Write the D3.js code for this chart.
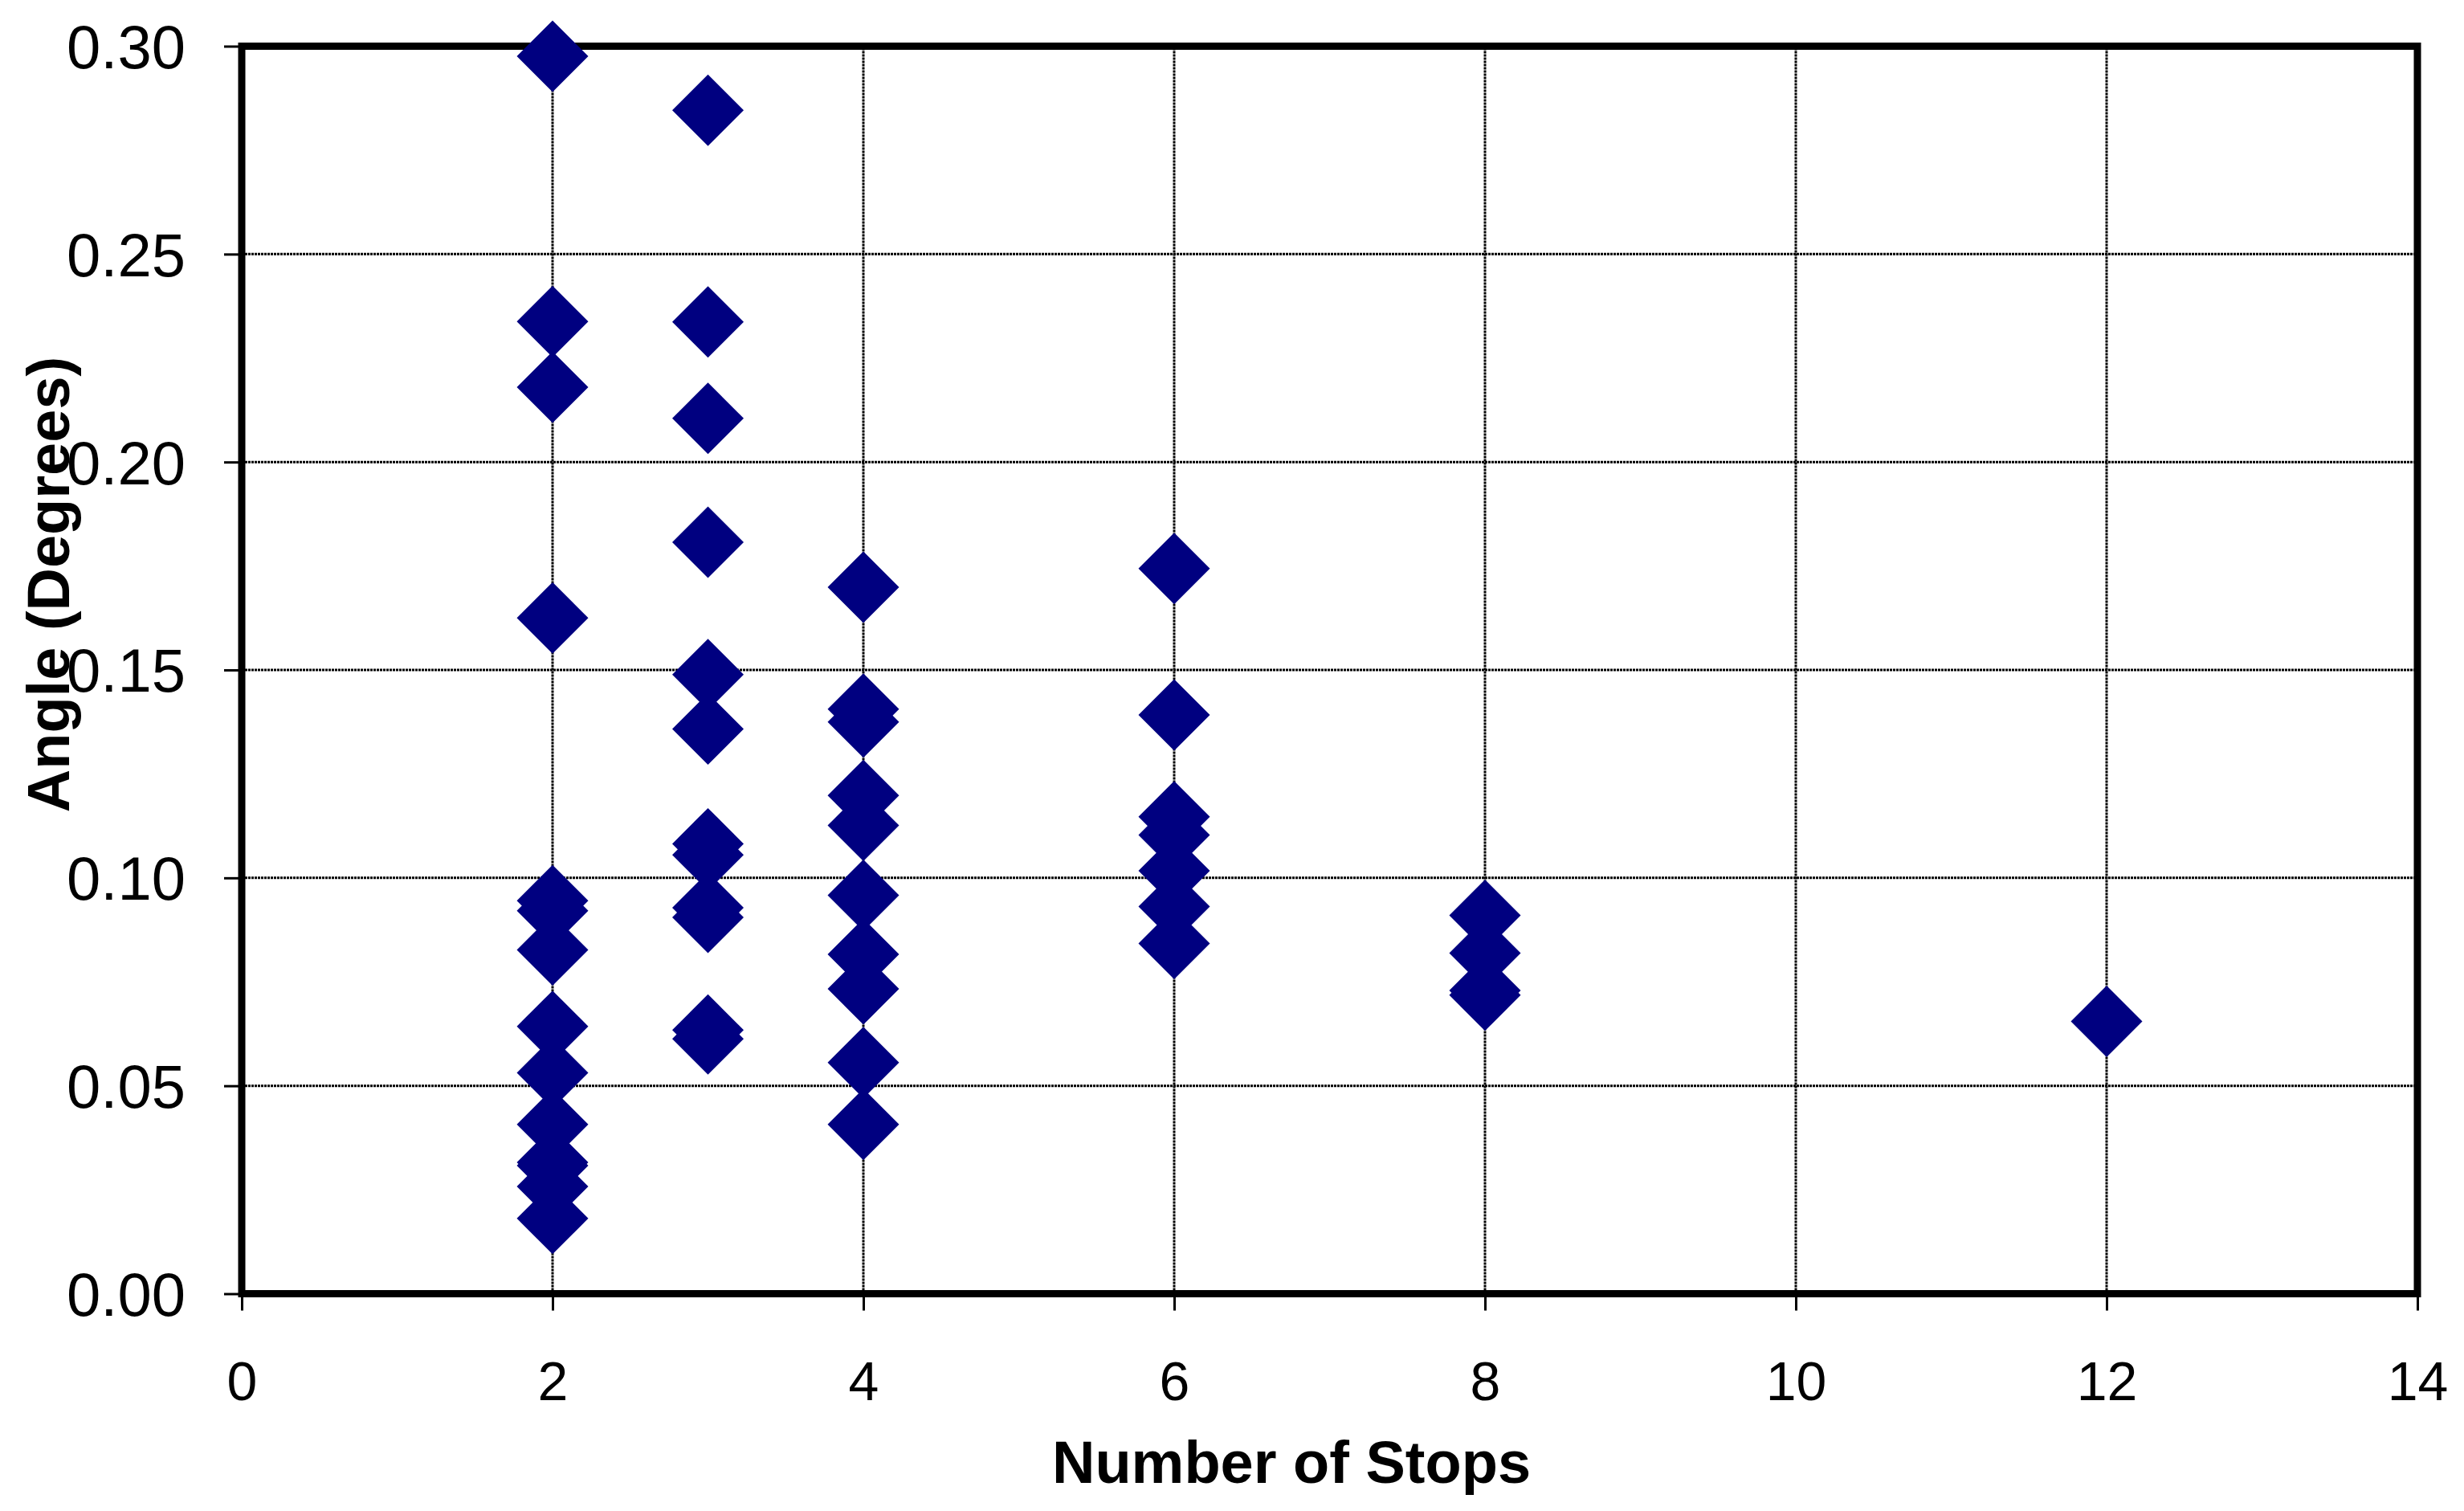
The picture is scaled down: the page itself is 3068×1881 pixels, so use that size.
<!DOCTYPE html>
<html>
<head>
<meta charset="utf-8">
<script src="https://cdn.jsdelivr.net/npm/d3@7"></script>
<style>
    html, body { margin: 0; padding: 0; background: #fff; }
    svg { display: block; }
</style>
</head>
<body>
<svg id="chart"></svg>
<script>
// data: angle (degrees) for each number of stops
const stops = [2, 3, 4, 6, 8, 12];
const anglesAt2 = [0.2976, 0.2338, 0.2180, 0.1625, 0.0945, 0.0921, 0.0827, 0.0643, 0.0531, 0.0407, 0.0316, 0.0308, 0.0258, 0.0181];
const anglesAt3 = [0.2846, 0.2337, 0.2105, 0.1807, 0.1489, 0.1358, 0.1082, 0.1055, 0.0928, 0.0905, 0.0634, 0.0613];
const anglesAt4 = [0.1699, 0.1406, 0.1375, 0.1198, 0.1126, 0.0958, 0.0816, 0.0733, 0.0556, 0.0407];
const anglesAt6 = [0.1744, 0.1392, 0.1147, 0.1103, 0.1017, 0.0931, 0.0842];
const anglesAt8 = [0.0910, 0.0819, 0.0729, 0.0718];
const anglesAt12 = [0.0655];

const xTicks = [0, 2, 4, 6, 8, 10, 12, 14];
const yTicks = [0, 0.05, 0.10, 0.15, 0.20, 0.25, 0.30];
const xTitle = "Number of Stops";
const yTitle = "Angle (Degrees)";

const width = 3068, height = 1881;
const margin = { top: 57.5, right: 58, bottom: 270.5, left: 301 };
const font = "'Liberation Sans', Arial, Helvetica, sans-serif";
const navy = "#000080";

const points = [anglesAt2, anglesAt3, anglesAt4, anglesAt6, anglesAt8, anglesAt12]
    .flatMap((list, i) => list.map(v => ({ stops: stops[i], angle: v })));

const x = d3.scaleLinear()
    .domain([0, 14])
    .range([margin.left, width - margin.right]);

const y = d3.scaleLinear()
    .domain([0, 0.30])
    .range([height - margin.bottom, margin.top]);

const svg = d3.select("#chart")
    .attr("width", width)
    .attr("height", height)
    .attr("viewBox", [0, 0, width, height])
    .style("font-family", font);

svg.append("rect")
    .attr("width", width)
    .attr("height", height)
    .attr("fill", "#fff");

// dotted gridlines
svg.append("g")
    .selectAll("line")
    .data(yTicks.filter(d => d > 0 && d < 0.30))
    .join("line")
    .attr("x1", x(0))
    .attr("x2", x(14))
    .attr("y1", d => y(d))
    .attr("y2", d => y(d))
    .attr("stroke", "#000")
    .attr("stroke-width", 3)
    .attr("stroke-dasharray", "3,1");

svg.append("g")
    .selectAll("line")
    .data(xTicks.filter(d => d > 0 && d < 14))
    .join("line")
    .attr("x1", d => x(d))
    .attr("x2", d => x(d))
    .attr("y1", y(0))
    .attr("y2", y(0.30))
    .attr("stroke", "#000")
    .attr("stroke-width", 3)
    .attr("stroke-dasharray", "3,1");

svg.append("g")
    .attr("transform", `translate(${x(0)},0)`)
    .call(d3.axisLeft(y)
        .tickValues(yTicks)
        .tickFormat(d3.format(".2f"))
        .tickSize(22)
        .tickPadding(48))
    .call(g => g.select(".domain").remove())
    .call(g => g.selectAll(".tick line").attr("stroke-width", 3))
    .call(g => g.selectAll(".tick text")
        .attr("dy", "0.355em")
        .attr("fill", "#000")
        .style("font-size", "76px")
        .style("font-family", font));

svg.append("g")
    .attr("transform", `translate(0,${y(0)})`)
    .call(d3.axisBottom(x)
        .tickValues(xTicks)
        .tickFormat(d3.format("d"))
        .tickSize(21)
        .tickPadding(63))
    .call(g => g.select(".domain").remove())
    .call(g => g.selectAll(".tick line").attr("stroke-width", 3))
    .call(g => g.selectAll(".tick text")
        .attr("dy", "0.71em")
        .attr("fill", "#000")
        .style("font-size", "68px")
        .style("font-family", font));

// plot frame
svg.append("rect")
    .attr("x", x(0))
    .attr("y", y(0.30))
    .attr("width", x(14) - x(0))
    .attr("height", y(0) - y(0.30))
    .attr("fill", "none")
    .attr("stroke", "#000")
    .attr("stroke-width", 9);

const r = 44.5;
svg.append("g")
    .selectAll("path")
    .data(points)
    .join("path")
    .attr("transform", d => `translate(${x(d.stops)},${y(d.angle)})`)
    .attr("d", `M0,${-r}L${r},0L0,${r}L${-r},0Z`)
    .attr("fill", navy);

svg.append("text")
    .attr("x", 1608)
    .attr("y", 1846)
    .attr("text-anchor", "middle")
    .attr("font-weight", "bold")
    .style("font-size", "74px")
    .text(xTitle);

svg.append("text")
    .attr("transform", "translate(86,727.5) rotate(-90)")
    .attr("text-anchor", "middle")
    .attr("font-weight", "bold")
    .style("font-size", "74px")
    .text(yTitle);
</script>
</body>
</html>
